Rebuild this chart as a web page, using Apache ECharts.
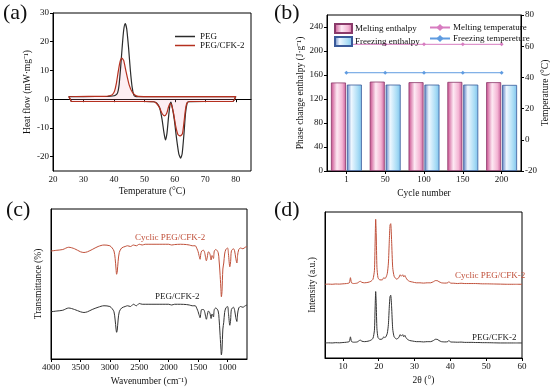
<!DOCTYPE html>
<html><head><meta charset="utf-8">
<script src="https://cdn.jsdelivr.net/npm/echarts@6/dist/echarts.min.js"></script>
<style>html,body{margin:0;padding:0;background:#fff}#c{width:550px;height:391px}</style>
</head><body><div id="c"></div>
<script>
// ---------- (a) DSC ----------
const dscPegT = [26,30,40,50,53,54,55,55.8,56.4,56.9,57.4,57.9,58.4,58.7,59.1,59.8,60.6,61.3,61.9,62.4,63,63.5,64,64.5,70,79,80,75,60,50,47,46.5,46,45.4,44.8,44.2,43.7,43.2,42.7,42.2,41.7,41.2,40.5,39.5,38,30,25.2,26];
const dscPegV = [-0.8,-0.8,-0.8,-0.8,-0.9,-1.3,-3,-7,-11.5,-14.2,-12,-6.5,-2,-1,-2.5,-7,-14,-19,-20.5,-19,-12,-5,-1.5,-0.9,-0.8,-0.8,0.9,0.9,0.9,0.9,1,1.5,4,10,18,24.5,26.3,24,18,11,5,2.2,1.4,1.1,1,0.9,0.9,-0.8];
const dscCfkT = [26,50,53,54,55,55.8,56.6,57.3,57.9,58.4,58.9,59.6,60.3,61,61.8,62.5,63,63.5,64,65,79,80,60,48,47,46,45,44,43.2,42.6,42,41.4,40.8,40.2,39.5,38.5,37,25.2,26];
const dscCfkV = [-0.8,-0.8,-0.9,-1.5,-3,-5,-5.8,-5,-2.8,-1.5,-2,-5,-9.5,-12.3,-12.8,-12,-8,-3.5,-1.3,-0.8,-0.8,0.9,0.9,1,1.4,2.5,5,9.5,13.5,14.3,13,9.5,5.5,2.8,1.6,1.2,1,0.9,-0.8];

// ---------- (b) cycling ----------
const cycles = ['1','50','100','150','200'];
const meltEnthalpy = [147.5,149,148,148.5,148];
const freezeEnthalpy = [144,144,144,144,143.5];
const meltTemp = [61.2,61.2,61.2,61.2,61.2];
const freezeTemp = [43,43,43,43,43];

// ---------- (c) FTIR ----------
const ftirW = [4000,3900,3800,3700,3600,3500,3440,3380,3300,3200,3100,3000,2960,2930,2910,2895,2885,2875,2860,2840,2800,2740,2700,2650,2600,2550,2500,2450,2400,2300,2200,2100,2000,1950,1900,1800,1700,1650,1600,1550,1520,1500,1485,1467,1455,1440,1410,1390,1360,1345,1325,1300,1280,1265,1250,1240,1225,1200,1160,1145,1130,1115,1105,1095,1080,1065,1050,1030,1000,985,962,948,935,900,880,860,842,830,810,780,740,700,670];
const ftirCyclic = [72,72.5,73,74.5,73.5,71.5,71,71.5,73,75,76,75.5,74,72,67,60,56.5,58,65,71,74,75,75.5,75,76,75.5,76.5,76,76.5,76.5,76.5,76.5,76.5,76,76.3,76.5,76.3,76,75.5,75.5,73.5,71.5,69,66.5,70,72,72.5,71,65.5,68,71.5,70,66,69,68,67,72,73,71,66,58,48,41.5,45,60,64,70,73,74,70,61.5,65,72,73.5,72,67,64,69,73,74,73.5,74.5,75];
const ftirBase = [31.5,32,32.5,34,33,31.5,31,31.5,33,34.5,35.5,35,33.5,31.5,26,20,17.8,19,26,31.5,34,35,35.5,35,36.5,35.5,37,36.5,36.5,36.5,36.5,36.5,36.5,36,36.5,36.5,36.3,36,35.5,35.5,33.5,31.5,29.5,27.5,30.5,33,33,31.5,26.5,29,32,30.5,27,30,29,28,33,34,32,27,18,8,2.7,6,20,24.5,31,34,35,30.5,22.5,26,33,34.5,32.5,27.5,25,30,34,35,34.5,35.5,36];

// ---------- (d) XRD ----------
const xrdA = [5,6,7,8,9,10,11,11.8,12.1,12.4,13,14,14.6,14.9,15.3,16,17,17.8,18.4,18.8,19.0,19.15,19.3,19.5,19.8,20.3,21,21.4,21.7,22.0,22.4,22.7,22.95,23.15,23.35,23.6,23.9,24.3,25,25.6,26.0,26.3,26.7,27.0,27.3,27.6,28,28.6,29.5,30.5,31.5,32.5,33.5,34.5,35.3,35.8,36.3,36.8,37.5,38.5,39.3,39.6,40,41,42,43,44,45,46,47,48,49,50,52,54,56,58,60];
const xrdCyclic = [50.5,50.6,50.5,50.7,50.6,50.8,51,51.5,55,51.5,51,51.3,52.3,52.5,51.8,51.5,51.8,52.5,54,60,80,95,85,62,55,53.5,53.5,55,54.5,55,58,65,80,91,92,80,62,56,54,55,57,56,57,55.5,56.5,55,53.5,52.5,52,51.5,51.5,51.3,51.5,51.5,52.3,53,53,52.3,51.5,51.3,51.5,52.3,51.3,51.2,51,51.2,51,51,51,51,50.9,50.8,50.8,50.7,50.6,50.5,50.5,50.5];
const xrdBase = [10.3,10.4,10.3,10.5,10.4,10.6,10.8,11.3,14.5,11.3,10.8,11,12,12.2,11.5,11.2,11.5,12.2,13.5,19,35,45.5,37,20,14,12.8,13,14.5,14,14.5,17,23,35,42,43,35,20,14.5,13,14,16,15,16,14.5,15.5,14,12.8,12,11.6,11.2,11.2,11,11.2,11.2,12,12.8,12.8,12,11.2,11,11.2,12,11,10.9,10.8,10.9,10.7,10.7,10.7,10.6,10.6,10.5,10.5,10.4,10.3,10.3,10.3,10.3];

const zip = (a,b) => a.map((v,i)=>[v,b[i]]);
const FONT = 'Liberation Serif';
const RED = '#c0503a';
const DARK = '#2b2b2b';
const tickLbl = {fontFamily: FONT, fontSize: 9, color: '#111', margin: 4};
const nameSt = {fontFamily: FONT, fontSize: 9.5, color: '#111'};
const axLine = {show: true, lineStyle: {color: '#000', width: 1}};
const axTick = {show: true, length: 3, lineStyle: {color: '#000'}};
const gridBase = {show: true, borderColor: '#000', borderWidth: 1, backgroundColor: 'transparent', containLabel: false, outerBoundsMode: 'none'};

const pinkGrad = {type:'linear',x:0,y:0,x2:1,y2:0,colorStops:[{offset:0,color:'#c8488a'},{offset:0.4,color:'#fde9f3'},{offset:0.75,color:'#f4b5d4'},{offset:1,color:'#c8609a'}]};
const blueGrad = {type:'linear',x:0,y:0,x2:1,y2:0,colorStops:[{offset:0,color:'#5a7ec0'},{offset:0.3,color:'#eef7ff'},{offset:0.75,color:'#a8dcf5'},{offset:1,color:'#7ec2ec'}]};
const legTxt = {fontFamily: FONT, fontSize: 9, lineHeight: 9, color: '#111', padding: [0,0,0,-2]};

const chart = echarts.init(document.getElementById('c'), null, {renderer: 'canvas'});
chart.setOption({
  animation: false,
  backgroundColor: '#fff',
  textStyle: {fontFamily: FONT},
  grid: [
    Object.assign({left: 53, top: 13, width: 198, height: 158}, gridBase),
    Object.assign({left: 327, top: 15, width: 194, height: 156}, gridBase),
    Object.assign({left: 51, top: 209, width: 196, height: 150}, gridBase),
    Object.assign({left: 325, top: 212, width: 197, height: 146}, gridBase)
  ],
  xAxis: [
    {gridIndex: 0, type: 'value', min: 20, max: 85, interval: 10, splitLine: {show: false},
     axisLine: axLine, axisTick: axTick, axisLabel: Object.assign({showMaxLabel: false}, tickLbl),
     name: 'Temperature (°C)', nameLocation: 'middle', nameGap: 15, nameTextStyle: nameSt},
    {gridIndex: 1, type: 'category', data: cycles, axisLine: axLine,
     axisTick: Object.assign({alignWithLabel: true}, axTick), axisLabel: tickLbl,
     name: 'Cycle number', nameLocation: 'middle', nameGap: 17, nameTextStyle: nameSt},
    {gridIndex: 2, type: 'value', min: 670, max: 4000, inverse: true, splitLine: {show: false},
     axisLine: axLine, axisTick: axTick,
     axisLabel: Object.assign({showMinLabel: false, formatter: v => String(v)}, tickLbl),
     name: 'Wavenumber (cm⁻¹)', nameLocation: 'middle', nameGap: 17, nameTextStyle: nameSt},
    {gridIndex: 3, type: 'value', min: 5, max: 60, splitLine: {show: false},
     axisLine: axLine, axisTick: axTick, axisLabel: Object.assign({showMinLabel: false}, tickLbl),
     name: '2θ (°)', nameLocation: 'middle', nameGap: 17, nameTextStyle: nameSt}
  ],
  yAxis: [
    {gridIndex: 0, type: 'value', min: -25, max: 30, splitLine: {show: false},
     axisLine: axLine, axisTick: axTick, axisLabel: Object.assign({showMinLabel: false}, tickLbl),
     name: 'Heat flow (mW·mg⁻¹)', nameLocation: 'middle', nameGap: 21, nameRotate: 90, nameTextStyle: nameSt},
    {gridIndex: 1, type: 'value', min: 0, max: 260, interval: 40, splitLine: {show: false},
     axisLine: axLine, axisTick: axTick, axisLabel: Object.assign({showMaxLabel: false}, tickLbl),
     name: 'Phase change enthalpy (J·g⁻¹)', nameLocation: 'middle', nameGap: 22, nameRotate: 90, nameTextStyle: nameSt},
    {gridIndex: 1, type: 'value', position: 'right', min: -20, max: 80, interval: 20, splitLine: {show: false},
     axisLine: axLine, axisTick: axTick, axisLabel: tickLbl,
     name: 'Temperature (°C)', nameLocation: 'middle', nameGap: 17, nameRotate: 90, nameTextStyle: nameSt},
    {gridIndex: 2, type: 'value', min: 0, max: 100, splitLine: {show: false},
     axisLine: axLine, axisTick: {show: false}, axisLabel: {show: false},
     name: 'Transmittance (%)', nameLocation: 'middle', nameGap: 8, nameRotate: 90, nameTextStyle: nameSt},
    {gridIndex: 3, type: 'value', min: 0, max: 100, splitLine: {show: false},
     axisLine: axLine, axisTick: {show: false}, axisLabel: {show: false},
     name: 'Intensity (a.u.)', nameLocation: 'middle', nameGap: 8, nameRotate: 90, nameTextStyle: nameSt}
  ],
  legend: [
    {left: 170, top: 27, orient: 'vertical', itemGap: 0, itemWidth: 20, itemHeight: 1.5, icon: 'rect',
     textStyle: {fontFamily: FONT, fontSize: 9, color: '#111'}, data: ['PEG','PEG/CFK-2']},
    {left: 329, top: 18, orient: 'vertical', itemGap: 2, itemWidth: 17, itemHeight: 9, icon: 'rect',
     textStyle: legTxt, data: ['Melting enthalpy','Freezing enthalpy']},
    {left: 424, top: 18, orient: 'vertical', itemGap: 2, itemWidth: 20, itemHeight: 9,
     textStyle: legTxt, data: ['Melting temperature','Freezing tempereture']}
  ],
  graphic: [
    {type: 'text', left: 3, top: 2, style: {text: '(a)', font: '22px "Liberation Serif"', fill: '#111'}},
    {type: 'text', left: 274, top: 2, style: {text: '(b)', font: '22px "Liberation Serif"', fill: '#111'}},
    {type: 'text', left: 6, top: 199, style: {text: '(c)', font: '22px "Liberation Serif"', fill: '#111'}},
    {type: 'text', left: 274, top: 199, style: {text: '(d)', font: '22px "Liberation Serif"', fill: '#111'}},
    {type: 'text', left: 135, top: 233, style: {text: 'Cyclic PEG/CFK-2', font: '9px "Liberation Serif"', fill: RED}},
    {type: 'text', left: 155, top: 292, style: {text: 'PEG/CFK-2', font: '9px "Liberation Serif"', fill: '#222'}},
    {type: 'text', left: 455, top: 271, style: {text: 'Cyclic PEG/CFK-2', font: '9px "Liberation Serif"', fill: RED}},
    {type: 'text', left: 472, top: 333, style: {text: 'PEG/CFK-2', font: '9px "Liberation Serif"', fill: '#222'}}
  ],
  series: [
    {name: 'PEG', type: 'line', xAxisIndex: 0, yAxisIndex: 0, data: zip(dscPegT, dscPegV),
     symbol: 'none', smooth: 0.2, lineStyle: {color: DARK, width: 1.2}, itemStyle: {color: DARK}},
    {name: 'PEG/CFK-2', type: 'line', xAxisIndex: 0, yAxisIndex: 0, data: zip(dscCfkT, dscCfkV),
     symbol: 'none', smooth: 0.2, lineStyle: {color: '#b5301f', width: 1.2}, itemStyle: {color: '#b5301f'},
     areaStyle: {color: 'rgba(245,160,180,0.25)', origin: 0}},
    {name: 'Melting enthalpy', type: 'bar', xAxisIndex: 1, yAxisIndex: 1, data: meltEnthalpy,
     barWidth: 15, barGap: '6%', itemStyle: {color: pinkGrad, borderColor: '#8a3a6a', borderWidth: 0.8}},
    {name: 'Freezing enthalpy', type: 'bar', xAxisIndex: 1, yAxisIndex: 1, data: freezeEnthalpy,
     barWidth: 15, barGap: '6%', itemStyle: {color: blueGrad, borderColor: '#3a5a9a', borderWidth: 0.8}},
    {name: 'Melting temperature', type: 'line', xAxisIndex: 1, yAxisIndex: 2, data: meltTemp,
     symbol: 'diamond', symbolSize: 4, lineStyle: {color: '#d77cc0', width: 1}, itemStyle: {color: '#d77cc0'}},
    {name: 'Freezing tempereture', type: 'line', xAxisIndex: 1, yAxisIndex: 2, data: freezeTemp,
     symbol: 'diamond', symbolSize: 4, lineStyle: {color: '#5f9be0', width: 1}, itemStyle: {color: '#5f9be0'}},
    {name: 'FTIR cyclic', type: 'line', xAxisIndex: 2, yAxisIndex: 3, data: zip(ftirW, ftirCyclic),
     symbol: 'none', smooth: 0.3, lineStyle: {color: RED, width: 1}},
    {name: 'FTIR base', type: 'line', xAxisIndex: 2, yAxisIndex: 3, data: zip(ftirW, ftirBase),
     symbol: 'none', smooth: 0.3, lineStyle: {color: '#333', width: 1}},
    {name: 'XRD cyclic', type: 'line', xAxisIndex: 3, yAxisIndex: 4, data: zip(xrdA, xrdCyclic),
     symbol: 'none', smooth: 0.2, lineStyle: {color: RED, width: 1}},
    {name: 'XRD base', type: 'line', xAxisIndex: 3, yAxisIndex: 4, data: zip(xrdA, xrdBase),
     symbol: 'none', smooth: 0.2, lineStyle: {color: '#333', width: 1}}
  ]
});
</script></body></html>
